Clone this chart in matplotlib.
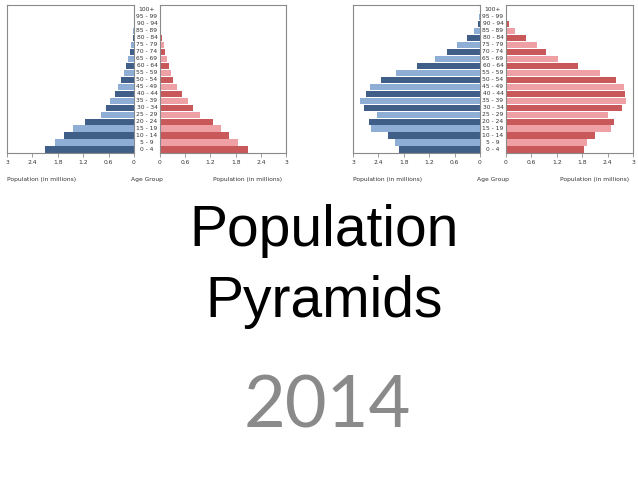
import matplotlib.pyplot as plt
from matplotlib.transforms import blended_transform_factory

#age groups, bottom to top
age_groups = ["0 - 4", "5 - 9", "10 - 14", "15 - 19", "20 - 24", "25 - 29", "30 - 34",
              "35 - 39", "40 - 44", "45 - 49", "50 - 54", "55 - 59", "60 - 64", "65 - 69",
              "70 - 74", "75 - 79", "80 - 84", "85 - 89", "90 - 94", "95 - 99", "100+"]

#first pyramid (young population), millions
males_a = [2.10, 1.87, 1.65, 1.43, 1.15, 0.78, 0.65, 0.57, 0.46, 0.37, 0.31,
           0.24, 0.19, 0.13, 0.09, 0.06, 0.03, 0.015, 0.008, 0.004, 0.001]
females_a = [2.09, 1.85, 1.65, 1.46, 1.26, 0.96, 0.78, 0.67, 0.52, 0.40, 0.32,
             0.26, 0.21, 0.17, 0.12, 0.09, 0.055, 0.03, 0.015, 0.005, 0.002]

#second pyramid (older population), millions
males_b = [1.92, 2.00, 2.17, 2.57, 2.62, 2.44, 2.73, 2.83, 2.69, 2.61, 2.35,
           1.98, 1.48, 1.06, 0.77, 0.54, 0.31, 0.13, 0.04, 0.015, 0.005]
females_b = [1.85, 1.91, 2.10, 2.47, 2.56, 2.42, 2.74, 2.83, 2.80, 2.79, 2.59,
             2.22, 1.70, 1.23, 0.95, 0.73, 0.47, 0.22, 0.07, 0.015, 0.003]

ticks = [0, 0.6, 1.2, 1.8, 2.4, 3]
tick_labels = ["0", "0.6", "1.2", "1.8", "2.4", "3"]

blue = ["#3f5f88", "#8eaed6"]
red = ["#c8585a", "#eea0a4"]

W, H = 638, 479
fig = plt.figure(figsize=(W / 100, H / 100), dpi=100)


def px_axes(x0, x1, top, bottom):
    return fig.add_axes([x0 / W, 1 - bottom / H, (x1 - x0) / W, (bottom - top) / H])


def style(ax):
    for s in ax.spines.values():
        s.set_color("#8a8a8a")
        s.set_linewidth(0.8)
    ax.set_ylim(-0.5, 20.7)
    ax.set_yticks([])
    ax.set_xticks(ticks)
    ax.set_xticklabels(tick_labels)
    ax.tick_params(axis="x", length=3, width=0.6, color="#8a8a8a",
                   labelsize=4.3, labelcolor="#333333", pad=2)


def pyramid(left_x, right_x, males, females):
    ax_l = px_axes(left_x[0], left_x[1], 5, 153)
    ax_r = px_axes(right_x[0], right_x[1], 5, 153)
    y = list(range(len(age_groups)))
    ax_l.barh(y, males, height=0.88, color=[blue[i % 2] for i in y])
    ax_r.barh(y, females, height=0.88, color=[red[i % 2] for i in y])
    ax_l.set_xlim(3, 0)
    ax_r.set_xlim(0, 3)
    style(ax_l)
    style(ax_r)

    #age group labels centered in the gap
    mid = (left_x[1] + right_x[0]) / 2 / W
    tr = blended_transform_factory(fig.transFigure, ax_r.transData)
    for i, lab in enumerate(age_groups):
        fig.text(mid, i, lab, transform=tr, ha="center", va="center",
                 fontsize=4.3, color="#333333")

    ly = 1 - 179 / H
    fig.text(left_x[0] / W, ly, "Population (in millions)", ha="left", va="center",
             fontsize=4.3, color="#333333")
    fig.text(mid, ly, "Age Group", ha="center", va="center", fontsize=4.3, color="#333333")
    fig.text((right_x[1] - 4) / W, ly, "Population (in millions)", ha="right", va="center",
             fontsize=4.3, color="#333333")


pyramid((7, 134), (160, 286), males_a, females_a)
pyramid((353, 480), (506, 633), males_b, females_b)

fig.text(324 / W, 1 - 246 / H, "Population", ha="center", va="baseline",
         fontsize=41, family="Liberation Sans", color="black")
fig.text(324 / W, 1 - 317 / H, "Pyramids", ha="center", va="baseline",
         fontsize=41, family="Liberation Sans", color="black")
fig.text(327 / W, 1 - 428 / H, "2014", ha="center", va="baseline",
         fontsize=52, family="Lato", color="#8a8a8a")

fig.savefig("out.png", dpi=100)
